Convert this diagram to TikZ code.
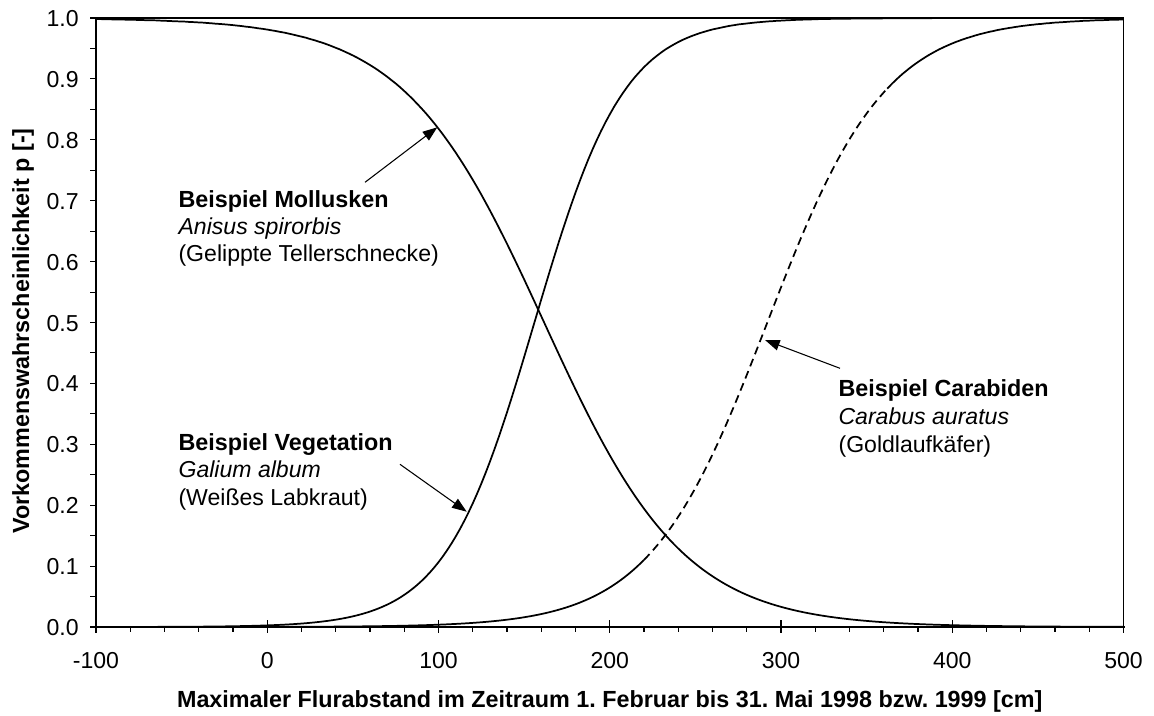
\documentclass[tikz,border=0pt]{standalone}
\usepackage{fontspec}
\setmainfont{Liberation Sans}
\usetikzlibrary{arrows.meta}
\frenchspacing
% logistic function with a clamped argument (keeps exp() in range)
\pgfmathdeclarefunction{logis}{1}{\pgfmathparse{1/(1+exp(-max(-9,min(9,#1))))}}
\begin{document}
\begin{tikzpicture}[x=0.75pt,y=-0.75pt,
  txt/.style={font=\fontsize{17.3}{20}\selectfont, inner sep=0pt},
  ttl/.style={font=\fontsize{17.5}{20}\selectfont\bfseries, inner sep=0pt},
  axisline/.style={line width=1.5pt, line cap=rect},
  frameline/.style={line width=0.8pt},
  tickline/.style={line width=0.8pt},
  curve/.style={line width=1.3pt},
  pointer/.style={line width=0.8pt, -{Triangle[length=11pt,width=8pt]}},
]
\useasboundingbox (0,0) rectangle (1154,715);

% plot frame and axes
\draw[frameline] (96,18) -- (1123.5,18) -- (1123.5,627);
\draw[axisline] (96,18) -- (96,627) -- (1123.5,627);

% y ticks and labels
\foreach \k in {0,...,20}
  \draw[tickline] (90,{627-30.45*\k}) -- (96,{627-30.45*\k});
\foreach \k/\t in {0/0.0,1/0.1,2/0.2,3/0.3,4/0.4,5/0.5,6/0.6,7/0.7,8/0.8,9/0.9,10/1.0}
  \node[txt, anchor=base east] (ylab\k) at (79,{635.5-60.9*\k}) {\t};

% x ticks and labels
\foreach \v in {-100,0,...,500}
  \draw[tickline] ({267.25+1.7125*\v},620) -- ({267.25+1.7125*\v},633);
\foreach \v in {-80,-60,...,480}
  \draw[tickline] ({267.25+1.7125*\v},627) -- ({267.25+1.7125*\v},632);
\foreach \v in {-100,0,100,200,300,400,500}
  \node[txt, anchor=base] (xlab\v) at ({267.25+1.7125*\v},668.3) {\v};

% axis titles
\node[ttl, anchor=base] (xtitle) at (609.75,707.3)
  {Maximaler Flurabstand im Zeitraum 1. Februar bis 31. Mai 1998 bzw. 1999 [cm]};
\node[ttl, anchor=base, rotate=90] (ytitle) at (29,331)
  {Vorkommenswahrscheinlichkeit p [-]};

% response curves
\draw[curve] plot[domain=-100:500, samples=241]
  ({267.25+1.7125*\x},{627-609*logis(-0.0244*(\x-161.7))});
\draw[curve] plot[domain=-100:500, samples=241]
  ({267.25+1.7125*\x},{627-609*logis(0.038*(\x-156))});
\draw[curve] plot[domain=-100:220, samples=161]
  ({267.25+1.7125*\x},{627-609*logis(0.029*(\x-292))});
\draw[curve, dash pattern=on 6pt off 3.8pt] plot[domain=220:362, samples=90]
  ({267.25+1.7125*\x},{627-609*logis(0.029*(\x-292))});
\draw[curve] plot[domain=362:500, samples=90]
  ({267.25+1.7125*\x},{627-609*logis(0.029*(\x-292))});

% labels
\node[ttl, anchor=base west] (moll1) at (178.3,207.3) {Beispiel Mollusken};
\node[txt, anchor=base west] (moll2) at (178.3,234.5) {\itshape Anisus spirorbis};
\node[txt, anchor=base west] (moll3) at (178.3,261.7) {(Gelippte Tellerschnecke)};

\node[ttl, anchor=base west] (veg1) at (178.3,450) {Beispiel Vegetation};
\node[txt, anchor=base west] (veg2) at (178.3,477.5) {\itshape Galium album};
\node[txt, anchor=base west] (veg3) at (178.3,505) {(Weißes Labkraut)};

\node[ttl, anchor=base west] (car1) at (838.3,396.7) {Beispiel Carabiden};
\node[txt, anchor=base west] (car2) at (838.3,424.5) {\itshape Carabus auratus};
\node[txt, anchor=base west] (car3) at (838.3,452) {(Goldlaufkäfer)};

% pointers from labels to curves
\coordinate (mollfrom) at (365,182.3);
\coordinate (mollto) at (437.3,127.3);
\coordinate (vegfrom) at (400,464.3);
\coordinate (vegto) at (466.7,511.7);
\coordinate (carfrom) at (840,368.3);
\coordinate (carto) at (765,340);
\draw[pointer] (mollfrom) -- (mollto);
\draw[pointer] (vegfrom) -- (vegto);
\draw[pointer] (carfrom) -- (carto);
\end{tikzpicture}
\end{document}
